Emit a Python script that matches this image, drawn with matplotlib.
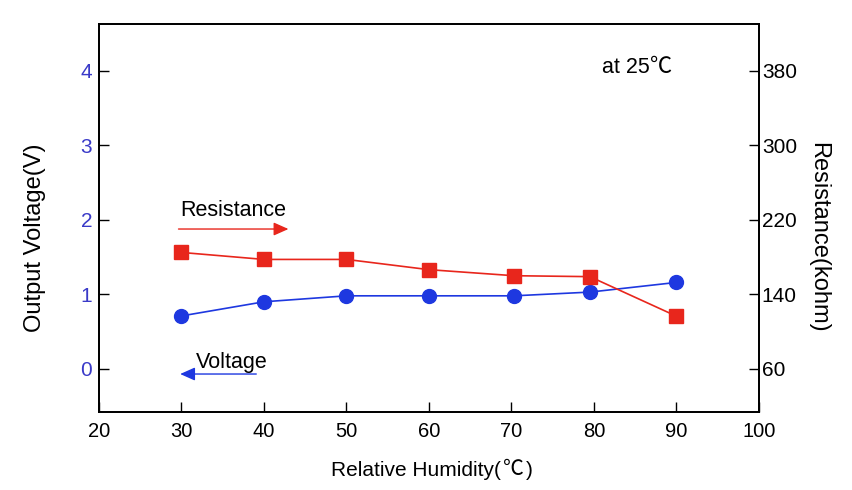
import matplotlib
matplotlib.use("Agg")
import matplotlib.pyplot as plt

plt.rcParams['font.family'] = ['Liberation Sans', 'Noto Sans CJK SC', 'DejaVu Sans']

humidity_v = [30, 40, 50, 60, 70.3, 79.5, 90]
voltage = [0.71, 0.90, 0.98, 0.98, 0.98, 1.03, 1.16]
humidity_r = [30, 40, 50, 60, 70.3, 79.5, 90]
resistance = [185, 177.5, 177.5, 166.5, 160, 159, 116.5]

x_ticks = [20, 30, 40, 50, 60, 70, 80, 90, 100]
v_ticks = [0, 1, 2, 3, 4]
r_ticks = [60, 140, 220, 300, 380]

RED = '#e8261c'
BLUE = '#1e38e0'
TICKBLUE = '#3a3ac8'
CJK = ['Noto Sans CJK SC', 'DejaVu Sans']

fig = plt.figure(figsize=(8.52, 4.90), dpi=100)
ax = fig.add_axes([99/852, 1-412/490, 660/852, 388/490])
ax2 = ax.twinx()

ax.set_xlim(20, 100)
ax.set_ylim(-0.58, 4.63)
ax2.set_ylim(60 - 0.58*80, 60 + 4.63*80)

ax.plot(humidity_v, voltage, color=BLUE, lw=1.2, marker='o', ms=10, zorder=3)
ax2.plot(humidity_r, resistance, color=RED, lw=1.2, marker='s', ms=10, zorder=3)

ax.set_xticks(x_ticks)
ax.set_yticks(v_ticks)
ax2.set_yticks(r_ticks)
ax.tick_params(axis='x', direction='in', length=7, width=1, labelsize=14.5, pad=7)
ax.tick_params(axis='y', direction='in', length=7, width=1, labelsize=15, pad=5, labelcolor=TICKBLUE)
ax2.tick_params(axis='y', direction='in', length=7, width=1, labelsize=15, pad=2)
for a in (ax, ax2):
    for s in a.spines.values():
        s.set_linewidth(1.3)

fig.text(35/852, 1-238/490, 'Output Voltage(V)', rotation=90, ha='center', va='center', fontsize=17)
fig.text(818/852, 1-237/490, 'Resistance(kohm)', rotation=270, ha='center', va='center', fontsize=17)
xl = fig.text(331/852, 1-476/490, 'Relative Humidity(', ha='left', va='baseline', fontsize=15)
c1 = ax.annotate('\u2103', xy=(1, 0), xycoords=xl, xytext=(1.5, 0), textcoords='offset points',
                 ha='left', va='bottom', fontsize=15, family=CJK)
ax.annotate(')', xy=(1, 0), xycoords=c1, xytext=(1.5, 0), textcoords='offset points',
            ha='left', va='bottom', fontsize=15)

t25 = ax.text(81.0, 4.04, 'at 25', ha='left', va='center', fontsize=15.5)
ax.annotate('\u2103', xy=(1, 0), xycoords=t25, ha='left', va='bottom', fontsize=16, family=CJK)

ARROW = '-|>,head_length=0.45,head_width=0.2'
ax.annotate('', xy=(43.3, 1.877), xytext=(29.3, 1.877),
            arrowprops=dict(arrowstyle=ARROW, color=RED, lw=1.0, mutation_scale=20))
ax.text(29.8, 2.13, 'Resistance', ha='left', va='center', fontsize=15.5)
ax.annotate('', xy=(29.5, -0.07), xytext=(39.4, -0.07),
            arrowprops=dict(arrowstyle=ARROW, color=BLUE, lw=1.0, mutation_scale=20))
ax.text(31.8, 0.09, 'Voltage', ha='left', va='center', fontsize=15.5)

fig.savefig('out.png', dpi=100)
